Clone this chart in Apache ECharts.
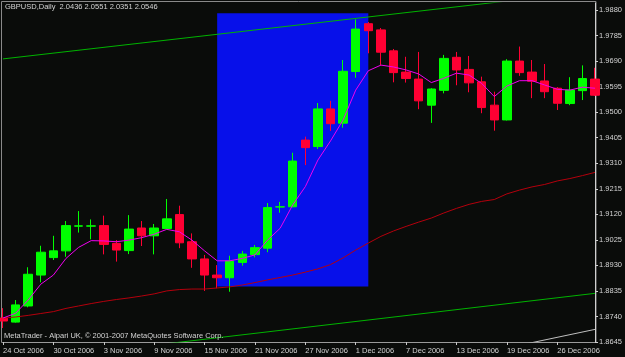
<!DOCTYPE html>
<html>
<head>
<meta charset="utf-8">
<script src="https://cdn.jsdelivr.net/npm/echarts@6/dist/echarts.min.js"></script>
<style>
  html, body { margin: 0; padding: 0; background: #0a0c0a; }
  #chart { width: 625px; height: 357px; }
</style>
</head>
<body>
<div id="chart"></div>
<script>
// GBPUSD daily bars, 24 Oct - 29 Dec 2006
const dates = [
  '24 Oct 2006', '25 Oct 2006', '26 Oct 2006', '27 Oct 2006',
  '30 Oct 2006', '31 Oct 2006', '1 Nov 2006', '2 Nov 2006', '3 Nov 2006',
  '6 Nov 2006', '7 Nov 2006', '8 Nov 2006', '9 Nov 2006', '10 Nov 2006',
  '13 Nov 2006', '14 Nov 2006', '15 Nov 2006', '16 Nov 2006', '17 Nov 2006',
  '20 Nov 2006', '21 Nov 2006', '22 Nov 2006', '23 Nov 2006', '24 Nov 2006',
  '27 Nov 2006', '28 Nov 2006', '29 Nov 2006', '30 Nov 2006', '1 Dec 2006',
  '4 Dec 2006', '5 Dec 2006', '6 Dec 2006', '7 Dec 2006', '8 Dec 2006',
  '11 Dec 2006', '12 Dec 2006', '13 Dec 2006', '14 Dec 2006', '15 Dec 2006',
  '18 Dec 2006', '19 Dec 2006', '20 Dec 2006', '21 Dec 2006', '22 Dec 2006',
  '26 Dec 2006', '27 Dec 2006', '28 Dec 2006', '29 Dec 2006'
];

const open = [
  1.8734, 1.8719, 1.8779, 1.8894, 1.8959, 1.8984, 1.9076, 1.9076, 1.9078, 1.9012,
  1.8985, 1.9069, 1.9040, 1.9067, 1.9119, 1.9018, 1.8954, 1.8894, 1.8884, 1.8941,
  1.8970, 1.8994, 1.9147, 1.9148, 1.9396, 1.9372, 1.9512, 1.9459, 1.9651, 1.9829,
  1.9806, 1.9728, 1.9649, 1.9623, 1.9526, 1.9581, 1.9704, 1.9659, 1.9613, 1.9526,
  1.9471, 1.9690, 1.9649, 1.9616, 1.9589, 1.9532, 1.9580, 1.9623
];
const close = [
  1.8723, 1.8783, 1.8897, 1.8979, 1.8984, 1.9078, 1.9077, 1.9077, 1.9008, 1.8987,
  1.9065, 1.9040, 1.9069, 1.9103, 1.9014, 1.8954, 1.8894, 1.8884, 1.8946, 1.8972,
  1.8996, 1.9145, 1.9148, 1.9318, 1.9368, 1.9512, 1.9457, 1.9652, 1.9809, 1.9803,
  1.9723, 1.9647, 1.9625, 1.9542, 1.9586, 1.9700, 1.9657, 1.9609, 1.9517, 1.9471,
  1.9690, 1.9647, 1.9615, 1.9576, 1.9533, 1.9582, 1.9625, 1.9563
];
const low = [
  1.8697, 1.8717, 1.8774, 1.8867, 1.8950, 1.8962, 1.9052, 1.9027, 1.8971, 1.8944,
  1.8972, 1.9002, 1.8971, 1.9064, 1.8994, 1.8921, 1.8835, 1.8845, 1.8832, 1.8929,
  1.8960, 1.8979, 1.9126, 1.9146, 1.9303, 1.9363, 1.9430, 1.9442, 1.9628, 1.9719,
  1.9674, 1.9611, 1.9610, 1.9511, 1.9460, 1.9570, 1.9600, 1.9574, 1.9496, 1.9431,
  1.9469, 1.9635, 1.9552, 1.9552, 1.9508, 1.9526, 1.9545, 1.9560
];
const high = [
  1.8771, 1.8801, 1.8923, 1.9003, 1.9040, 1.9095, 1.9132, 1.9101, 1.9115, 1.9024,
  1.9117, 1.9095, 1.9084, 1.9177, 1.9152, 1.9049, 1.8969, 1.8931, 1.8966, 1.8984,
  1.9006, 1.9162, 1.9166, 1.9349, 1.9409, 1.9534, 1.9542, 1.9694, 1.9845, 1.9835,
  1.9813, 1.9735, 1.9706, 1.9724, 1.9589, 1.9713, 1.9724, 1.9709, 1.9632, 1.9576,
  1.9697, 1.9744, 1.9694, 1.9679, 1.9593, 1.9630, 1.9674, 1.9665
];

// moving averages
const maFast = [
  1.8734, 1.8752, 1.8801, 1.8860, 1.8894, 1.8956, 1.8997, 1.9022, 1.9021, 1.9018,
  1.9024, 1.9033, 1.9046, 1.9064, 1.9055, 1.9024, 1.8984, 1.8947, 1.8947, 1.8956,
  1.8969, 1.9024, 1.9068, 1.9155, 1.9223, 1.9322, 1.9393, 1.9471, 1.9582, 1.9654,
  1.9675, 1.9668, 1.9657, 1.9642, 1.9610, 1.9626, 1.9645, 1.9638, 1.9607, 1.9558,
  1.9597, 1.9617, 1.9617, 1.9601, 1.9585, 1.9582, 1.9593, 1.9589
];
const maSlow = [
  1.8734, 1.8738, 1.8744, 1.8751, 1.8758, 1.8770, 1.8779, 1.8788, 1.8796, 1.8803,
  1.8809, 1.8816, 1.8824, 1.8835, 1.8840, 1.8842, 1.8842, 1.8846, 1.8850, 1.8857,
  1.8866, 1.8876, 1.8885, 1.8894, 1.8905, 1.8917, 1.8933, 1.8958, 1.8987, 1.9013,
  1.9038, 1.9058, 1.9075, 1.9091, 1.9106, 1.9125, 1.9142, 1.9157, 1.9168, 1.9175,
  1.9196, 1.9210, 1.9222, 1.9231, 1.9244, 1.9253, 1.9264, 1.9276
];

// drawn objects: channel lines [bar index, price] and the highlighted box
const channelTop = [[0, 1.9698], [47, 1.9951]];
const channelBottom = [[0, 1.8567], [47, 1.8826]];
const greyLine = [[40, 1.8623], [47, 1.8692]];
const boxFrom = [17, 1.9868];
const boxTo = [29, 1.8851];

const yMin = 1.8645, yMax = 1.9906, yStep = 0.0095;

const candles = dates.map((d, i) => [open[i], close[i], low[i], high[i]]);

const font = 'Liberation Sans';
const textCol = '#d4d4d4';

let chart = echarts.init(document.getElementById('chart'));
let option = {
  backgroundColor: '#0a0c0a',
  animation: false,
  grid: { left: 3, right: 29, top: 3, bottom: 15 },
  graphic: [
    {
      type: 'rect', silent: true, z: 0,
      shape: { x: 1.5, y: 1.5, width: 594.5, height: 341 },
      style: { fill: null, stroke: '#8a8a8a', lineWidth: 1 }
    },
    {
      type: 'text', left: 5, top: 3, z: 10,
      style: { text: 'GBPUSD,Daily  2.0436 2.0551 2.0351 2.0546', fill: textCol, font: '7.5px ' + font }
    },
    {
      type: 'text', left: 4, top: 332, z: 10,
      style: { text: 'MetaTrader - Alpari UK, \u00a9 2001-2007 MetaQuotes Software Corp.', fill: textCol, font: '7.5px ' + font }
    }
  ],
  xAxis: {
    type: 'category',
    data: dates,
    boundaryGap: false,
    axisLine: { lineStyle: { color: '#9a9a9a', width: 1 } },
    axisTick: { interval: 3, length: 3, lineStyle: { color: '#c8c8c8' } },
    axisLabel: {
      interval: 3, align: 'left', margin: 5,
      color: textCol, fontFamily: font, fontSize: 7.5
    },
    splitLine: { show: false }
  },
  yAxis: {
    type: 'value',
    position: 'right',
    min: yMin, max: yMax, interval: yStep,
    scale: true,
    axisLine: { show: true, lineStyle: { color: '#d0d0d0', width: 1 } },
    axisTick: { show: true, length: 3, lineStyle: { color: '#d0d0d0' } },
    axisLabel: {
      margin: 4, showMaxLabel: false,
      color: textCol, fontFamily: font, fontSize: 7.5,
      formatter: v => v.toFixed(4)
    },
    splitLine: { show: false }
  },
  series: [
    {
      type: 'candlestick',
      data: candles,
      barWidth: 9,
      itemStyle: {
        color: '#00ff00', color0: '#ff0033',
        borderColor: '#00ff00', borderColor0: '#ff0033', borderWidth: 1
      },
      markArea: {
        silent: true,
        itemStyle: { color: '#0710ea', opacity: 1 },
        data: [[
          { xAxis: boxFrom[0], yAxis: boxFrom[1] },
          { xAxis: boxTo[0], yAxis: boxTo[1] }
        ]]
      }
    },
    {
      type: 'line', data: maSlow, z: 3, symbol: 'none',
      lineStyle: { color: '#b4000c', width: 1 }
    },
    {
      type: 'line', data: maFast, z: 3, symbol: 'none',
      lineStyle: { color: '#f000f0', width: 1 }
    },
    {
      type: 'line', data: channelTop, z: 3, symbol: 'none',
      lineStyle: { color: '#00b400', width: 1 }
    },
    {
      type: 'line', data: channelBottom, z: 3, symbol: 'none',
      lineStyle: { color: '#00b400', width: 1 }
    },
    {
      type: 'line', data: greyLine, z: 3, symbol: 'none',
      lineStyle: { color: '#c0c0c0', width: 1 }
    }
  ]
};
chart.setOption(option);
</script>
</body>
</html>
